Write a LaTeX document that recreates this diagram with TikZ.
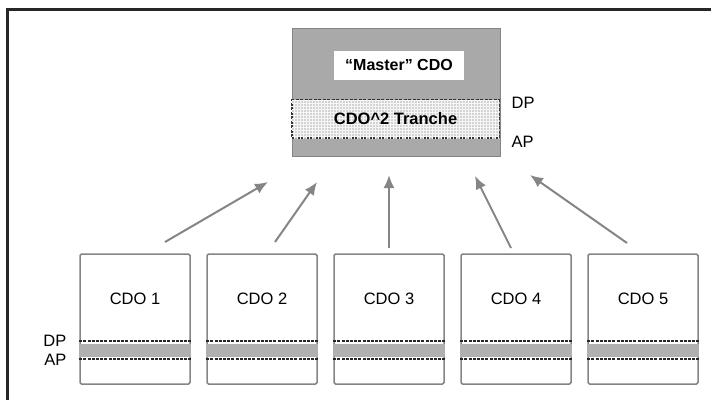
\documentclass[tikz,border=0pt]{standalone}
\usepackage{fontspec}
\setmainfont{Liberation Sans}
\usetikzlibrary{positioning,arrows.meta,patterns}

\definecolor{edgegray}{HTML}{858585}
\definecolor{fillgray}{HTML}{A9A9A9}
\definecolor{tranchegray}{HTML}{D3D3D3}
\definecolor{bandgray}{HTML}{B0B0B0}

\begin{document}
\begin{tikzpicture}[x=1pt, y=-1pt, thick,
 font=\fontsize{16.5}{19}\selectfont,
 node distance=15.5pt,
 master/.style={draw=edgegray, fill=fillgray, minimum width=208pt, minimum height=128pt},
 tranche/.style={draw=black!80, dash pattern=on 3pt off 1.5pt, line width=1.8pt, fill=tranchegray,
   postaction={pattern=grid, pattern color=white!80!tranchegray},
   minimum width=207pt, minimum height=38pt, font=\fontsize{16.5}{19}\selectfont\bfseries},
 namebox/.style={fill=white, minimum width=130pt, minimum height=29pt,
   font=\fontsize{16}{19}\selectfont\bfseries},
 cdo/.style={draw=edgegray, line width=1.5pt, rounded corners=1.5pt, fill=white,
   minimum width=110pt, minimum height=130pt},
 band/.style={fill=bandgray},
 dpap/.style={draw=black!85, dash pattern=on 3pt off 1.2pt, line width=2pt},
 link/.style={draw=edgegray, line width=2pt, -{Latex[length=13pt,width=11pt]}}]
 \useasboundingbox (0,0) rectangle (711,400);
 \draw[line width=2.6pt, black!85] (7.5,400) -- (7.5,9.5) -- (711,9.5);

 % master CDO with its tranche
 \node[master] (master) at (396,92) {};
 \node[tranche] (tr) at (395.5,119) {CDO\^{}2 Tranche};
 \node[namebox, above=19pt of tr, xshift=3.5pt] (mname) {``Master'' CDO};
 \node[anchor=west] (mdp) at ([xshift=8pt,yshift=-4pt]tr.north east) {DP};
 \node[anchor=west] (map) at ([xshift=8pt,yshift=-3pt]tr.south east) {AP};

 % underlying CDOs
 \node[cdo] (c1) at (135,319) {};
 \node[cdo, right=of c1] (c2) {};
 \node[cdo, right=of c2] (c3) {};
 \node[cdo, right=of c3] (c4) {};
 \node[cdo, right=of c4] (c5) {};
 \foreach \i in {1,...,5} {
  \node (n\i) at ([yshift=-46pt]c\i.north) {CDO \i};
  \fill[band] ([yshift=41pt]c\i.south west) rectangle ([yshift=28pt]c\i.south east);
  \draw[dpap] ([yshift=44pt]c\i.south west) -- ([yshift=44pt]c\i.south east);
  \draw[dpap] ([yshift=26pt]c\i.south west) -- ([yshift=26pt]c\i.south east);
 }
 \node[anchor=east] (dp) at (70,341) {DP};
 \node[anchor=east] (ap) at (70,360) {AP};

 % arrows up to the master
 \coordinate (t1) at (165,242); \coordinate (h1) at (268,182);
 \coordinate (t2) at (275,242); \coordinate (h2) at (317,182);
 \coordinate (t3) at (389,248); \coordinate (h3) at (389,175);
 \coordinate (t4) at (511,248); \coordinate (h4) at (475,176);
 \coordinate (t5) at (627,243); \coordinate (h5) at (530,175);
 \foreach \i in {1,...,5}
  \path[link] (t\i) -- (h\i);
\end{tikzpicture}
\end{document}
